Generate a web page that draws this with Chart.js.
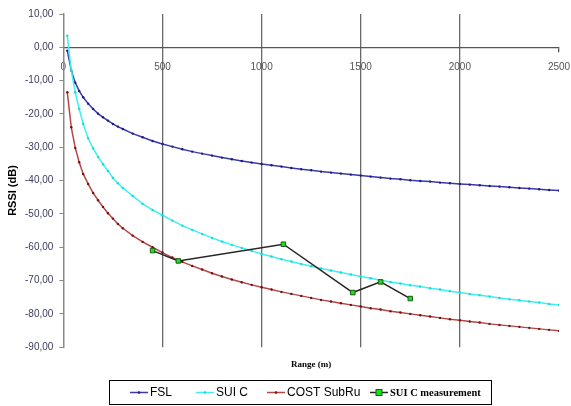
<!DOCTYPE html>
<html>
<head>
<meta charset="utf-8">
<script src="https://cdn.jsdelivr.net/npm/chart.js@4/dist/chart.umd.min.js"></script>
<style>
  html, body { margin: 0; padding: 0; background: #ffffff; }
  #wrap { width: 571px; height: 406px; }
</style>
</head>
<body>
<div id="wrap"><canvas id="c" width="571" height="406"></canvas></div>
<script>
// ---- data ----
const rangeM = [20,40,60,80,100,125,150,175,200,225,250,275,300,350,400,450,500,550,600,650,700,750,800,850,900,950,1000,1050,1100,1150,1200,1250,1300,1350,1400,1450,1500,1550,1600,1650,1700,1750,1800,1850,1900,1950,2000,2050,2100,2150,2200,2250,2300,2350,2400,2450,2500];
const fslRssi = [-1.0,-7.0,-10.6,-13.1,-15.0,-16.9,-18.5,-19.9,-21.0,-22.0,-23.0,-23.8,-24.5,-25.9,-27.0,-28.1,-29.0,-29.8,-30.6,-31.3,-31.9,-32.5,-33.1,-33.6,-34.1,-34.6,-35.0,-35.4,-35.8,-36.2,-36.6,-36.9,-37.3,-37.6,-37.9,-38.2,-38.5,-38.8,-39.1,-39.4,-39.6,-39.9,-40.1,-40.3,-40.6,-40.8,-41.0,-41.2,-41.4,-41.6,-41.8,-42.0,-42.2,-42.4,-42.6,-42.8,-43.0];
const suiCRssi = [3.5,-7.0,-13.5,-18.5,-23.0,-27.3,-30.3,-32.9,-35.1,-37.1,-39.2,-40.8,-42.2,-44.6,-47.0,-48.8,-50.4,-52.0,-53.5,-54.8,-56.0,-57.2,-58.3,-59.3,-60.2,-61.1,-62.0,-62.8,-63.6,-64.3,-65.0,-65.7,-66.4,-67.0,-67.6,-68.2,-68.8,-69.3,-69.9,-70.4,-70.9,-71.4,-71.8,-72.3,-72.7,-73.2,-73.6,-74.0,-74.4,-74.8,-75.2,-75.6,-75.9,-76.3,-76.6,-77.0,-77.3];
const costRssi = [-13.5,-24.0,-30.2,-34.5,-38.0,-41.0,-43.7,-45.9,-47.9,-49.8,-51.4,-53.0,-54.3,-56.5,-58.4,-60.0,-61.6,-63.1,-64.4,-65.6,-66.7,-67.8,-68.8,-69.7,-70.5,-71.3,-72.0,-72.7,-73.4,-74.0,-74.6,-75.2,-75.8,-76.3,-76.8,-77.3,-77.8,-78.3,-78.7,-79.2,-79.6,-80.0,-80.4,-80.8,-81.2,-81.6,-81.9,-82.3,-82.6,-83.0,-83.3,-83.6,-83.9,-84.2,-84.5,-84.8,-85.1];
const measRange = [450, 580, 1110, 1460, 1600, 1750];
const measRssi  = [-61.0, -64.1, -59.1, -73.6, -70.4, -75.4];
const seriesNames = ['FSL', 'SUI C', 'COST SubRu', 'SUI C measurement'];
const xTitle = 'Range (m)';
const yTitle = 'RSSI (dB)';

const toXY = (xs, ys) => xs.map((x, i) => ({ x: x, y: ys[i] }));

// y-axis title (drawn slightly below the centre, as in the reference)
const yTitlePlugin = {
  id: 'yTitle',
  afterDraw(chart) {
    const ctx = chart.ctx;
    ctx.save();
    ctx.translate(12.5, 190.5);
    ctx.rotate(-Math.PI / 2);
    ctx.font = 'bold 11px "Liberation Sans", Arial, sans-serif';
    ctx.fillStyle = '#000';
    ctx.textAlign = 'center';
    ctx.textBaseline = 'middle';
    ctx.fillText(yTitle, 0, 0);
    ctx.restore();
  }
};

const legendBox = {
  id: 'legendBox',
  afterDraw(chart) {
    const ctx = chart.ctx;
    const ds = chart.data.datasets;
    ctx.save();
    ctx.strokeStyle = '#000';
    ctx.lineWidth = 1;
    ctx.strokeRect(109.5, 380.5, 382, 24);
    const starts = [130, 196, 267, 370];
    const yc = 392.5;
    ds.forEach((d, i) => {
      const x0 = starts[i];
      ctx.beginPath();
      ctx.strokeStyle = d.borderColor;
      ctx.lineWidth = 1.5;
      ctx.moveTo(x0, yc);
      ctx.lineTo(x0 + 18, yc);
      ctx.stroke();
      if (d.pointStyle === 'rect') {
        ctx.fillStyle = d.pointBackgroundColor;
        ctx.strokeStyle = d.pointBorderColor;
        ctx.lineWidth = 1;
        ctx.fillRect(x0 + 6, yc - 3, 6, 6);
        ctx.strokeRect(x0 + 6, yc - 3, 6, 6);
        ctx.font = 'bold 10.5px "Liberation Serif", "Times New Roman", serif';
      } else {
        ctx.fillStyle = d.pointBackgroundColor;
        ctx.beginPath();
        ctx.arc(x0 + 9, yc, 1.3, 0, Math.PI * 2);
        ctx.fill();
        ctx.font = '12px "Liberation Sans", Arial, sans-serif';
      }
      ctx.fillStyle = '#000';
      ctx.textBaseline = 'middle';
      ctx.textAlign = 'left';
      ctx.fillText(d.label, x0 + 20, yc + 0.5);
    });
    ctx.restore();
  }
};

const bgPlugin = {
  id: 'bg',
  beforeDraw(chart) {
    const ctx = chart.ctx;
    ctx.save();
    ctx.fillStyle = '#ffffff';
    ctx.fillRect(0, 0, chart.width, chart.height);
    ctx.restore();
  }
};

new Chart(document.getElementById('c'), {
  type: 'line',
  data: {
    datasets: [
      { label: seriesNames[0], data: toXY(rangeM, fslRssi), borderColor: '#3a3aae', borderWidth: 1.5,
        pointRadius: 1.2, pointBorderWidth: 0, pointBackgroundColor: '#1c1c7e', order: 3 },
      { label: seriesNames[1], data: toXY(rangeM, suiCRssi), borderColor: '#3ff0f0', borderWidth: 1.5,
        pointRadius: 1.2, pointBorderWidth: 0, pointBackgroundColor: '#18dada', order: 2 },
      { label: seriesNames[2], data: toXY(rangeM, costRssi), borderColor: '#b44848', borderWidth: 1.5,
        pointRadius: 1.2, pointBorderWidth: 0, pointBackgroundColor: '#7e0c0c', order: 1 },
      { label: seriesNames[3], data: toXY(measRange, measRssi), borderColor: '#262626', borderWidth: 1.5,
        pointStyle: 'rect', pointRadius: 3.2, pointBorderWidth: 1, pointBackgroundColor: '#19e019',
        pointBorderColor: '#1c5a1c', order: 0 }
    ]
  },
  options: {
    responsive: false,
    animation: false,
    devicePixelRatio: 1,
    layout: { padding: { left: 19, right: 0, top: 14, bottom: 34 } },
    elements: { line: { tension: 0 } },
    plugins: { legend: { display: false }, tooltip: { enabled: false } },
    scales: {
      x: {
        type: 'linear',
        min: 0, max: 2500,
        position: { y: 0 },
        afterFit: (scale) => { scale.paddingRight = 12; scale.paddingLeft = 0; },
        border: { display: true, color: '#555555', width: 1.3 },
        grid: {
          drawOnChartArea: true,
          drawTicks: true,
          tickLength: 4,
          lineWidth: 1.3,
          color: (c) => (c.tick && (c.tick.value === 0 || c.tick.value === 2500)) ? 'rgba(0,0,0,0)' : '#6a6a6a',
          tickColor: (c) => (c.tick && c.tick.value === 2500) ? '#555555' : 'rgba(0,0,0,0)'
        },
        ticks: { stepSize: 500, padding: 10, color: '#555555', maxRotation: 0, autoSkip: false,
          font: { size: 10, family: '"Liberation Sans", Arial, sans-serif' },
          callback: (v) => String(v) }
      },
      x2: {
        type: 'linear',
        position: 'bottom',
        min: 0, max: 1,
        grid: { display: false, drawTicks: false },
        border: { display: false },
        ticks: { display: false },
        title: { display: true, text: xTitle, color: '#000',
          font: { size: 9, weight: 'bold', family: '"Liberation Serif", "Times New Roman", serif' },
          padding: { top: 12, bottom: 2 } }
      },
      y: {
        type: 'linear',
        min: -90, max: 10,
        position: 'left',
        border: { display: true, color: '#8a8a8a', width: 1.5 },
        grid: { drawOnChartArea: false, drawTicks: true, tickLength: 4, color: '#8a8a8a', lineWidth: 1 },
        ticks: { stepSize: 10, padding: 6, color: '#3c3c5e',
          font: { size: 10, family: '"Liberation Sans", Arial, sans-serif' },
          callback: (v) => Number(v).toFixed(2).replace('.', ',') },
        title: { display: false }
      }
    }
  },
  plugins: [bgPlugin, legendBox, yTitlePlugin]
});
</script>
</body>
</html>
